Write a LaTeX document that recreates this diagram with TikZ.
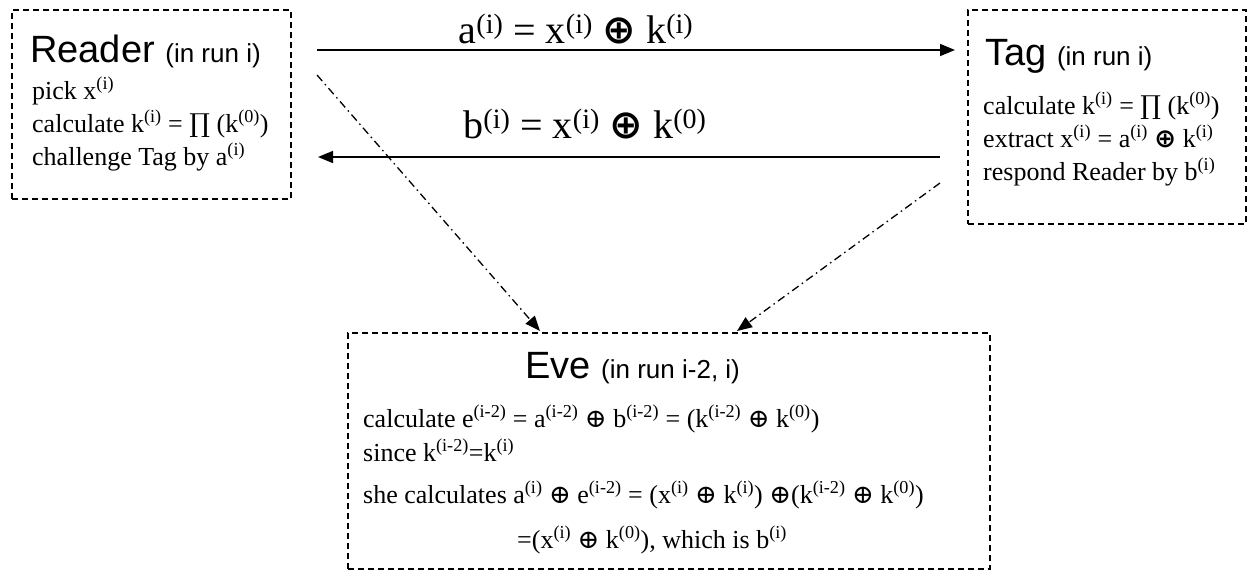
\documentclass[tikz,border=0pt]{standalone}
\usepackage{amsmath,amssymb}
\usepackage{fontspec}
\setmainfont{Liberation Serif}
\newfontfamily\headfont{Liberation Sans}
\newfontfamily\opfont{DejaVu Serif}
\newfontfamily\opboldfont{DejaVu Sans}
\usetikzlibrary{arrows.meta,positioning}

\newcommand{\pw}[1]{\textsuperscript{(#1)}}
\newcommand{\hd}[2]{{\headfont\fontsize{38}{44}\selectfont #1 \fontsize{26}{30}\selectfont(#2)}}
\newcommand{\xor}{{\opboldfont\bfseries ⊕}}
\newcommand{\xr}{{\opfont ⊕}}
\newcommand{\pr}{{\opfont ∏}}

\tikzset{
  party/.style={draw, dash pattern=on 6pt off 4pt, line width=1.4pt, inner sep=0pt},
  line/.style={anchor=base west, inner sep=0pt, font=\fontsize{26}{31}\selectfont},
  msglabel/.style={anchor=base, inner sep=0pt, font=\fontsize{40}{46}\selectfont},
  msg/.style={line width=1.5pt, -{Triangle[length=15pt,width=12pt]}},
  spy/.style={line width=1.3pt, dash pattern=on 8pt off 4pt on 1.5pt off 4pt,
              -{Triangle[length=15pt,width=12pt]}}
}

\begin{document}
\begin{tikzpicture}[x=1pt,y=-1pt]
  \useasboundingbox (0,0) rectangle (1248,576);

  % the three parties
  \node[party, minimum width=279pt, minimum height=189pt] (reader) at (151.5,104.5) {};
  \node[party, minimum width=278pt, minimum height=214pt] (tag) at (1107,117) {};
  \node[party, minimum width=642pt, minimum height=236pt] (eve) at (669,451) {};

  % Reader
  \node[line] (rdHead) at (30,62) {\hd{Reader}{in run i}};
  \node[line] (rdPick) at (32,99) {pick x\pw{i}};
  \node[line] (rdCalc) at (32,132) {calculate k\pw{i} = \pr{} (k\pw{0})};
  \node[line] (rdChal) at (32,165) {challenge Tag by a\pw{i}};

  % Tag
  \node[line] (tgHead) at (985,65) {\hd{Tag}{in run i}};
  \node[line] (tgCalc) at (983,114) {calculate k\pw{i} = \pr{} (k\pw{0})};
  \node[line] (tgExtr) at (983,147) {extract x\pw{i} = a\pw{i} \xor{} k\pw{i}};
  \node[line] (tgResp) at (983,180) {respond Reader by b\pw{i}};

  % Eve
  \node[line] (evHead) at (525,378) {\hd{Eve}{in run i-2, i}};
  \node[line] (evCalc) at (363,427) {calculate e\pw{i-2} = a\pw{i-2} \xr{} b\pw{i-2} = (k\pw{i-2} \xr{} k\pw{0})};
  \node[line] (evSince) at (363,461) {since k\pw{i-2}=k\pw{i}};
  \node[line] (evShe) at (363,503) {she calculates a\pw{i} \xr{} e\pw{i-2} = (x\pw{i} \xr{} k\pw{i}) \xr(k\pw{i-2} \xr{} k\pw{0})};
  \node[line] (evRes) at (517,548) {=(x\pw{i} \xr{} k\pw{0}), which is b\pw{i}};

  % messages
  \coordinate (aFrom) at (317,50);
  \coordinate (aTo) at (955,50);
  \coordinate (bFrom) at (940,157);
  \coordinate (bTo) at (318,157);
  \draw[msg] (aFrom) -- (aTo);
  \draw[msg] (bFrom) -- (bTo);
  \node[msglabel] (aLabel) at (576,43) {a\pw{i} = x\pw{i} \xor{} k\pw{i}};
  \node[msglabel] (bLabel) at (585,138) {b\pw{i} = x\pw{i} \xor{} k\pw{0}};

  % eavesdropping
  \coordinate (rdTap) at (317,75);
  \coordinate (tgTap) at (940,183);
  \coordinate (evL) at (540,331);
  \coordinate (evR) at (737,331);
  \draw[spy] (rdTap) -- (evL);
  \draw[spy] (tgTap) -- (evR);
\end{tikzpicture}
\end{document}
